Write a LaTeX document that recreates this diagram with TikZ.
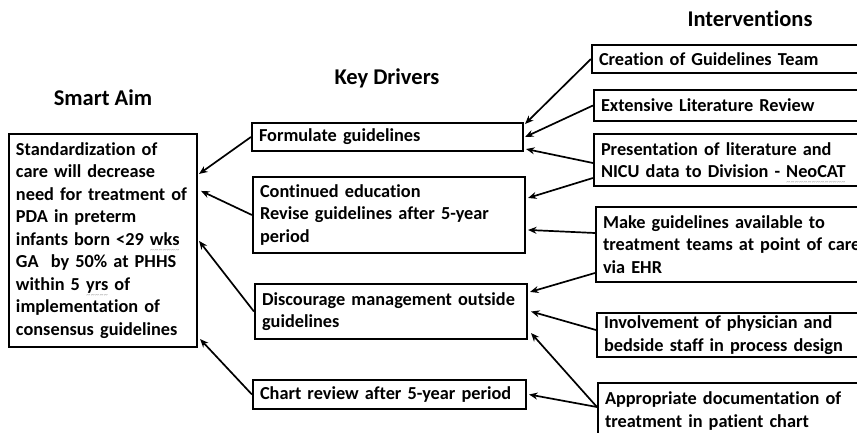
\documentclass[tikz,border=0pt]{standalone}
\usepackage{fontspec}
\setmainfont{Carlito}[RawFeature={-liga}]
\usetikzlibrary{arrows.meta}
% grey wavy underline under flagged words, built from small tildes
\newcommand\spell[1]{\leavevmode\setbox0\hbox{#1}%
  \rlap{\raisebox{-7.2pt}[0pt][0pt]{\textcolor{gray!70}{\hbox to \wd0{\xleaders\hbox{\fontsize{8}{8}\selectfont\mdseries\textasciitilde}\hfill}}}}\box0\relax}
\tikzset{
  box/.style={draw=black, line width=2.1pt, inner xsep=7pt, inner ysep=0pt,
    align=left, font=\fontsize{18.3}{22.5}\selectfont\bfseries},
  title/.style={font=\fontsize{22.5}{26}\selectfont\bfseries},
  link/.style={line width=1.7pt, -{Stealth[length=8.5pt,width=7pt]}},
}
\begin{document}
\begin{tikzpicture}[x=1pt,y=1pt]
\useasboundingbox (0,0) rectangle (857,-433);

% column headings
\node[title] (tA) at (103,-98) {Smart Aim};
\node[title] (tK) at (387,-78) {Key Drivers};
\node[title] (tI) at (750,-19) {Interventions};

% smart aim
\node[box, minimum width=188pt, minimum height=213pt, text width=174pt] (aim) at (103,-240.5)
 {Standardization of\\ care will decrease\\ need for treatment of\\ PDA in preterm\\ infants born <29 \spell{wks}\\ GA\ \ by 50\% at PHHS\\ within 5 \spell{yrs} of\\ implementation of\\ consensus guidelines};

% key drivers
\node[box, minimum width=271pt, minimum height=28pt, text width=257pt] (fm) at (387.5,-137)
 {Formulate guidelines};
\node[box, minimum width=272pt, minimum height=76pt, text width=258pt] (ce) at (389,-215)
 {Continued education\\ Revise guidelines after 5-year\\ period};
\node[box, minimum width=272pt, minimum height=55pt, text width=258pt] (dm) at (391,-311.5)
 {Discourage management outside\\ guidelines};
\node[box, minimum width=273pt, minimum height=29pt, text width=259pt] (cr) at (389.5,-394.5)
 {Chart review after 5-year period};

% interventions (boxes run past the right edge)
\node[box, minimum width=288pt, minimum height=28pt, text width=274pt] (i1) at (736,-59)
 {Creation of Guidelines Team};
\node[box, minimum width=286pt, minimum height=31pt, text width=272pt] (i2) at (737,-105.5)
 {Extensive Literature Review};
\node[box, minimum width=286pt, minimum height=52pt, text width=272pt] (i3) at (737,-160)
 {Presentation of literature and\\ NICU data to Division - \spell{NeoCAT}};
\node[box, minimum width=284pt, minimum height=75pt, text width=270pt] (i4) at (738,-244.5)
 {Make guidelines available to\\ treatment teams at point of care\\ via EHR};
\node[box, minimum width=283pt, minimum height=44pt, text width=269pt] (i5) at (738.5,-335)
 {Involvement of physician and\\ bedside staff in process design};
\node[box, minimum width=282pt, minimum height=56pt, text width=268pt] (i6) at (739,-411)
 {Appropriate documentation of\\ treatment in patient chart};

% interventions -> key drivers
\draw[link] (i1.west) -- ([xshift=1pt,yshift=-2pt]fm.north east);
\draw[link] (i2.west) -- ([xshift=1pt]fm.east);
\draw[link] ([yshift=-3pt]i3.west) -- ([xshift=2pt,yshift=3pt]fm.south east);
\draw[link] ([yshift=-18pt]i3.west) -- ([xshift=2pt,yshift=-22pt]ce.north east);
\draw[link] ([yshift=11.5pt]i4.west) -- ([xshift=2pt,yshift=-54pt]ce.north east);
\draw[link] ([yshift=-28.5pt]i4.west) -- ([xshift=2pt,yshift=-9pt]dm.north east);
\draw[link] ([yshift=5pt]i5.west) -- ([xshift=3pt]dm.east);
\draw[link] ([yshift=4pt]i6.west) -- ([xshift=3pt,yshift=7pt]dm.south east);
\draw[link] ([yshift=4pt]i6.west) -- ([xshift=2pt]cr.east);

% key drivers -> smart aim
\draw[link] (fm.west) -- ([xshift=1pt,yshift=-41pt]aim.north east);
\draw[link] (ce.west) -- ([xshift=3pt,yshift=-58pt]aim.north east);
\draw[link] (dm.west) -- ([xshift=1pt,yshift=-108pt]aim.north east);
\draw[link] (cr.west) -- ([xshift=2pt,yshift=9pt]aim.south east);
\end{tikzpicture}
\end{document}
